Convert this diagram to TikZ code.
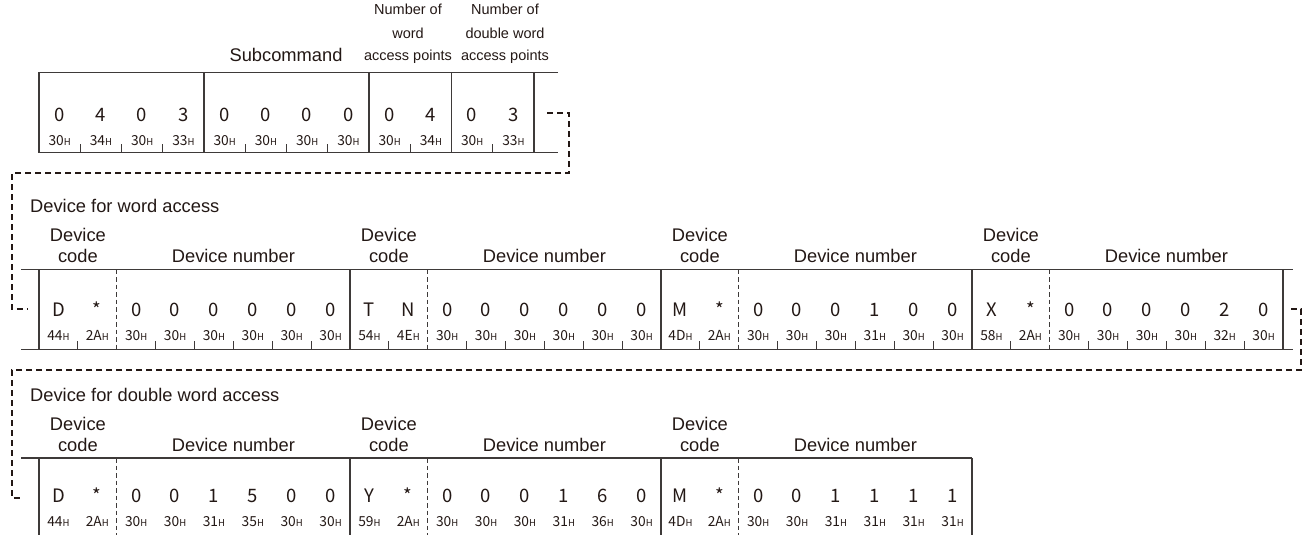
\documentclass[tikz,border=0pt]{standalone}
\usepackage{fontspec}
\setmainfont{Liberation Sans}
\newfontfamily\digf{Noto Sans CJK JP}
\definecolor{ink}{RGB}{35,24,21}
\definecolor{linec}{RGB}{62,58,57}
\newcommand\hx[1]{#1{\fontsize{9.5}{10}\selectfont H}}
\begin{document}
\begin{tikzpicture}[x=1pt,y=-1pt,
  boxline/.style={draw=linec, line width=1.3pt},
  tick/.style={draw=linec, line width=1.1pt},
  sepdash/.style={draw=linec, line width=1.1pt, dash pattern=on 4.5pt off 3pt},
  link/.style={draw=ink, line width=2.4pt, dash pattern=on 6pt off 4pt},
  lbl/.style={font=\fontsize{18.3}{22}\selectfont, text=ink, inner sep=0pt, anchor=base},
  hdr/.style={font=\fontsize{14.5}{17}\selectfont, text=ink, inner sep=0pt, anchor=base},
  dig/.style={font=\digf\fontsize{18.5}{20}\selectfont, text=ink, inner sep=0pt, anchor=base},
  hexs/.style={font=\digf\fontsize{13.8}{14}\selectfont, text=ink, inner sep=0pt, anchor=base}]
\useasboundingbox (0,0) rectangle (1303,535);

% ---------- header labels ----------
\node[lbl] (subcmd) at (286,62) {Subcommand};
\node[hdr] (wa1) at (408,15) {Number of};
\node[hdr] (wa2) at (408,38) {word};
\node[hdr] (wa3) at (408,61) {access points};
\node[hdr] (dwa1) at (505,15) {Number of};
\node[hdr] (dwa2) at (505,38) {double word};
\node[hdr] (dwa3) at (505,61) {access points};

% ---------- top row ----------
\draw[boxline] (558,72.5) -- (39,72.5) -- (39,152.5) -- (558,152.5);
\foreach \x in {204,369,451.5,534} \draw[boxline] (\x,72.5) -- (\x,152.5);
\foreach \k in {1,2,3,5,6,7,9,11} \draw[tick] ({39+41.25*\k},144) -- ({39+41.25*\k},152.5);
\foreach \d [count=\i from 0] in {0,4,0,3,0,0,0,0,0,4,0,3}
  \node[dig] (td\i) at ({39+41.25*(\i+0.5)},121) {\d};
\foreach \h [count=\i from 0] in {30,34,30,33,30,30,30,30,30,34,30,33}
  \node[hexs] (th\i) at ({39+41.25*(\i+0.5)},145) {\hx{\h}};

% ---------- connector 1 ----------
\coordinate (c1a) at (547,113);
\coordinate (c1b) at (569,113);
\coordinate (c1c) at (569,173);
\coordinate (c1d) at (12,173);
\coordinate (c1e) at (12,309);
\coordinate (c1f) at (28,309);
\draw[link] (c1a) -- (c1b) -- (c1c) -- (c1d) -- (c1e) -- (c1f);

% ---------- middle row ----------
\node[lbl, anchor=base west] (wordacc) at (30,212) {Device for word access};
\foreach \g in {0,1,2,3} {
  \node[lbl] (mdc\g a) at ({39+311*\g+38.875},241) {Device};
  \node[lbl] (mdc\g b) at ({39+311*\g+38.875},262) {code};
  \node[lbl] (mdn\g) at ({39+311*\g+194.4},262) {Device number};
}
\draw[boxline] (21,269.5) -- (1293,269.5);
\draw[boxline] (21,349.5) -- (1293,349.5);
\foreach \g in {0,1,2,3,4} \draw[boxline] ({39+311*\g},269.5) -- ({39+311*\g},349.5);
\foreach \g in {0,1,2,3} {
  \draw[sepdash] ({39+311*\g+77.75},269.5) -- ({39+311*\g+77.75},349.5);
  \foreach \k in {1,3,4,5,6,7} \draw[tick] ({39+311*\g+38.875*\k},341) -- ({39+311*\g+38.875*\k},349.5);
}
\foreach \d [count=\i from 0] in {D,*,0,0,0,0,0,0,T,N,0,0,0,0,0,0,M,*,0,0,0,1,0,0,X,*,0,0,0,0,2,0}
  \node[dig] (md\i) at ({39+38.875*(\i+0.5)},316) {\d};
\foreach \h [count=\i from 0] in {44,2A,30,30,30,30,30,30,54,4E,30,30,30,30,30,30,4D,2A,30,30,30,31,30,30,58,2A,30,30,30,30,32,30}
  \node[hexs] (mh\i) at ({39+38.875*(\i+0.5)},340) {\hx{\h}};

% ---------- connector 2 ----------
\coordinate (c2a) at (1291,309);
\coordinate (c2b) at (1301,309);
\coordinate (c2c) at (1301,370);
\coordinate (c2d) at (12,370);
\coordinate (c2e) at (12,498);
\coordinate (c2f) at (21,498);
\draw[link] (c2a) -- (c2b) -- (c2c) -- (c2d) -- (c2e) -- (c2f);

% ---------- bottom row ----------
\node[lbl, anchor=base west] (dwordacc) at (30,401) {Device for double word access};
\foreach \g in {0,1,2} {
  \node[lbl] (bdc\g a) at ({39+311*\g+38.875},430) {Device};
  \node[lbl] (bdc\g b) at ({39+311*\g+38.875},451) {code};
  \node[lbl] (bdn\g) at ({39+311*\g+194.4},451) {Device number};
}
\draw[boxline] (21,458) -- (972,458);
\foreach \g in {0,1,2,3} \draw[boxline] ({39+311*\g},458) -- ({39+311*\g},535);
\foreach \g in {0,1,2} \draw[sepdash] ({39+311*\g+77.75},458) -- ({39+311*\g+77.75},535);
\foreach \d [count=\i from 0] in {D,*,0,0,1,5,0,0,Y,*,0,0,0,1,6,0,M,*,0,0,1,1,1,1}
  \node[dig] (bd\i) at ({39+38.875*(\i+0.5)},502) {\d};
\foreach \h [count=\i from 0] in {44,2A,30,30,31,35,30,30,59,2A,30,30,30,31,36,30,4D,2A,30,30,31,31,31,31}
  \node[hexs] (bh\i) at ({39+38.875*(\i+0.5)},526) {\hx{\h}};
\end{tikzpicture}
\end{document}
